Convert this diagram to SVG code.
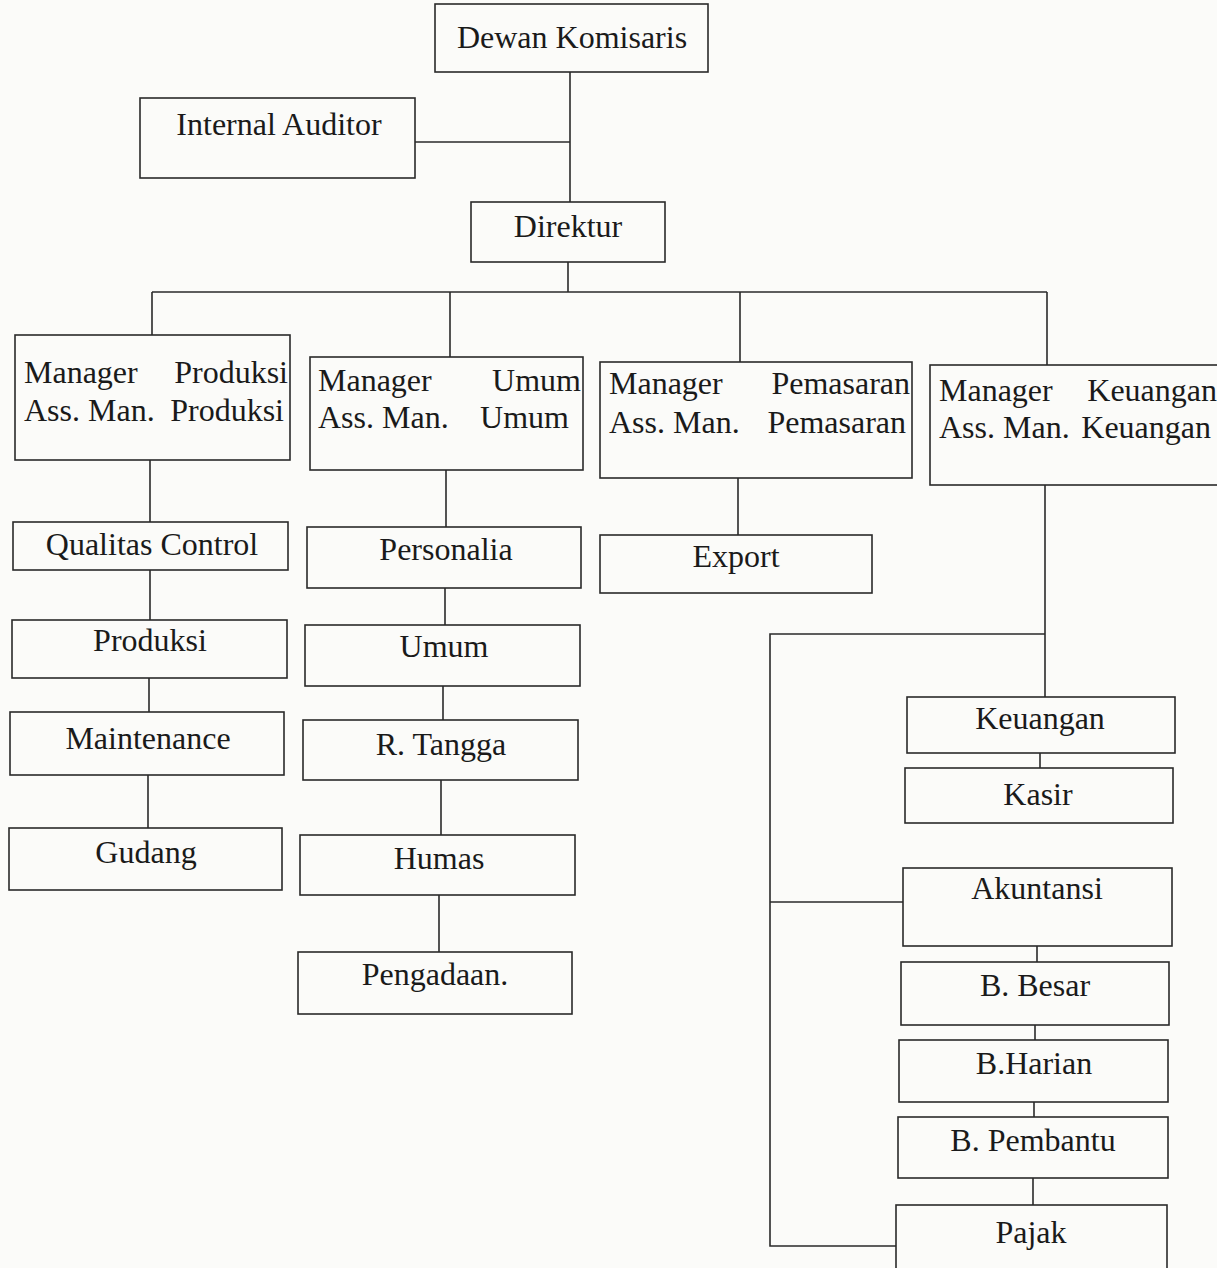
<svg xmlns="http://www.w3.org/2000/svg" width="1217" height="1268" viewBox="0 0 1217 1268">
<style>
.box{fill:none;stroke:#2a2a2a;stroke-width:1.6}
.ln{fill:none;stroke:#2a2a2a;stroke-width:1.6}
text{font-family:"Liberation Serif","Times New Roman",serif;font-size:32px;fill:#1a1a1a}
.c{text-anchor:middle}
.r{text-anchor:end}
</style>
<rect x="0" y="0" width="1217" height="1268" fill="#fbfbf9"/>
<g id="connectors">
<path class="ln" d="M570,72 V202"/>
<path class="ln" d="M415,142 H570"/>
<path class="ln" d="M568,262 V292"/>
<path class="ln" d="M152,292 H1047"/>
<path class="ln" d="M152,292 V335"/>
<path class="ln" d="M450,292 V357"/>
<path class="ln" d="M740,292 V362"/>
<path class="ln" d="M1047,292 V365"/>
<path class="ln" d="M150,460 V522"/>
<path class="ln" d="M150,570 V620"/>
<path class="ln" d="M149,678 V712"/>
<path class="ln" d="M148,775 V828"/>
<path class="ln" d="M446,470 V527"/>
<path class="ln" d="M445,588 V625"/>
<path class="ln" d="M443,686 V720"/>
<path class="ln" d="M441,780 V835"/>
<path class="ln" d="M439,895 V952"/>
<path class="ln" d="M738,478 V535"/>
<path class="ln" d="M1045,485 V697"/>
<path class="ln" d="M1045,634 H770 V1246 H896"/>
<path class="ln" d="M770,902 H903"/>
<path class="ln" d="M1040,753 V768"/>
<path class="ln" d="M1037,946 V962"/>
<path class="ln" d="M1035,1025 V1040"/>
<path class="ln" d="M1034,1102 V1117"/>
<path class="ln" d="M1033,1178 V1205"/>
</g>
<g id="dewan-komisaris"><rect class="box" x="435" y="4" width="273" height="68"/><text class="c" x="572" y="48">Dewan Komisaris</text></g>
<g id="internal-auditor"><rect class="box" x="140" y="98" width="275" height="80"/><text class="c" x="279" y="135">Internal Auditor</text></g>
<g id="direktur"><rect class="box" x="471" y="202" width="194" height="60"/><text class="c" x="568" y="237">Direktur</text></g>
<g id="manager-produksi"><rect class="box" x="15" y="335" width="275" height="125"/>
<text x="24" y="383">Manager</text><text class="r" x="288" y="383">Produksi</text>
<text x="24" y="421">Ass. Man.</text><text class="r" x="284" y="421">Produksi</text></g>
<g id="manager-umum"><rect class="box" x="310" y="357" width="273" height="113"/>
<text x="318" y="391">Manager</text><text class="r" x="581" y="391">Umum</text>
<text x="318" y="428">Ass. Man.</text><text class="r" x="569" y="428">Umum</text></g>
<g id="manager-pemasaran"><rect class="box" x="600" y="362" width="312" height="116"/>
<text x="609" y="394">Manager</text><text class="r" x="910" y="394">Pemasaran</text>
<text x="609" y="433">Ass. Man.</text><text class="r" x="906" y="433">Pemasaran</text></g>
<g id="manager-keuangan"><rect class="box" x="930" y="365" width="300" height="120"/>
<text x="939" y="401">Manager</text><text class="r" x="1217" y="401">Keuangan</text>
<text x="939" y="438">Ass. Man.</text><text class="r" x="1211" y="438">Keuangan</text></g>
<g id="qualitas-control"><rect class="box" x="13" y="522" width="275" height="48"/><text class="c" x="152" y="555">Qualitas Control</text></g>
<g id="produksi"><rect class="box" x="12" y="620" width="275" height="58"/><text class="c" x="150" y="651">Produksi</text></g>
<g id="maintenance"><rect class="box" x="10" y="712" width="274" height="63"/><text class="c" x="148" y="749">Maintenance</text></g>
<g id="gudang"><rect class="box" x="9" y="828" width="273" height="62"/><text class="c" x="146" y="863">Gudang</text></g>
<g id="personalia"><rect class="box" x="307" y="527" width="274" height="61"/><text class="c" x="446" y="560">Personalia</text></g>
<g id="umum"><rect class="box" x="305" y="625" width="275" height="61"/><text class="c" x="444" y="657">Umum</text></g>
<g id="r-tangga"><rect class="box" x="303" y="720" width="275" height="60"/><text class="c" x="441" y="755">R. Tangga</text></g>
<g id="humas"><rect class="box" x="300" y="835" width="275" height="60"/><text class="c" x="439" y="869">Humas</text></g>
<g id="pengadaan"><rect class="box" x="298" y="952" width="274" height="62"/><text class="c" x="435" y="985">Pengadaan.</text></g>
<g id="export"><rect class="box" x="600" y="535" width="272" height="58"/><text class="c" x="736" y="567">Export</text></g>
<g id="keuangan"><rect class="box" x="907" y="697" width="268" height="56"/><text class="c" x="1040" y="729">Keuangan</text></g>
<g id="kasir"><rect class="box" x="905" y="768" width="268" height="55"/><text class="c" x="1038" y="805">Kasir</text></g>
<g id="akuntansi"><rect class="box" x="903" y="868" width="269" height="78"/><text class="c" x="1037" y="899">Akuntansi</text></g>
<g id="b-besar"><rect class="box" x="901" y="962" width="268" height="63"/><text class="c" x="1035" y="996">B. Besar</text></g>
<g id="b-harian"><rect class="box" x="899" y="1040" width="269" height="62"/><text class="c" x="1034" y="1074">B.Harian</text></g>
<g id="b-pembantu"><rect class="box" x="898" y="1117" width="270" height="61"/><text class="c" x="1033" y="1151">B. Pembantu</text></g>
<g id="pajak"><rect class="box" x="896" y="1205" width="271" height="70"/><text class="c" x="1031" y="1243">Pajak</text></g>
</svg>
